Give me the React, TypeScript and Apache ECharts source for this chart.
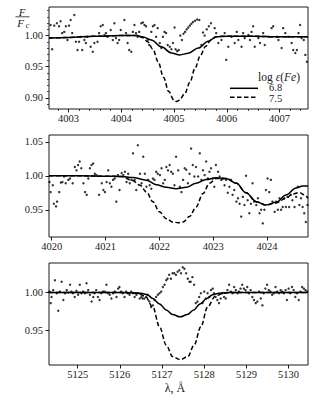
import React, { useEffect, useRef } from "react";
import * as echarts from "echarts";

// ---------- axis ticks / ranges ----------
const p1XTicks = [4003, 4004, 4005, 4006, 4007];
const p2XTicks = [4020, 4021, 4022, 4023, 4024];
const p3XTicks = [5125, 5126, 5127, 5128, 5129, 5130];
const p1YTicks = [0.9, 0.95, 1.0];
const p2YTicks = [0.95, 1.0, 1.05];
const p3YTicks = [0.95, 1.0];
const p1XRange = [4002.63, 4007.54];
const p2XRange = [4019.95, 4024.76];
const p3XRange = [5124.32, 5130.46];
const p1YRange = [0.882, 1.046];
const p2YRange = [0.91, 1.06];
const p3YRange = [0.905, 1.0385];

// ---------- panel 1 (Fe I 4005) ----------
const p1Points = [
  [4002.66, 1.017], [4002.69, 0.978], [4002.73, 1.016], [4002.78, 1.02], [4002.82, 1.015], [4002.85, 1.023],
  [4002.88, 1.004], [4002.92, 1.006], [4002.95, 1.015], [4002.98, 0.993], [4003.01, 1.016], [4003.04, 1.025],
  [4003.07, 1.004], [4003.11, 1.033], [4003.14, 0.99], [4003.17, 0.977], [4003.2, 0.99], [4003.23, 0.998],
  [4003.26, 0.977], [4003.3, 0.993], [4003.33, 0.988], [4003.36, 0.998], [4003.42, 0.982], [4003.46, 0.974],
  [4003.49, 0.988], [4003.55, 0.99], [4003.58, 1.004], [4003.61, 1.015], [4003.65, 1.017], [4003.68, 1.001],
  [4003.71, 1.004], [4003.74, 0.998], [4003.8, 1.009], [4003.84, 0.993], [4003.87, 1.02], [4003.9, 0.996],
  [4003.93, 0.988], [4003.96, 0.993], [4003.99, 1.009], [4004.06, 1.025], [4004.09, 1.004], [4004.12, 0.988],
  [4004.15, 0.977], [4004.19, 0.974], [4004.22, 1.006], [4004.25, 1.017], [4004.28, 1.004], [4004.31, 0.998],
  [4004.34, 1.006], [4004.38, 1.02], [4004.41, 1.021], [4004.44, 1.017], [4004.47, 1.015], [4004.5, 0.993],
  [4004.53, 0.985], [4004.57, 1.006], [4004.6, 1.015], [4004.63, 1.017], [4004.66, 0.998], [4004.69, 1.012],
  [4004.73, 0.988], [4004.76, 0.98], [4004.79, 0.998], [4004.82, 1.006], [4004.85, 1.004], [4004.88, 0.985],
  [4004.92, 0.982], [4004.95, 0.978], [4004.98, 0.988], [4005.01, 1.013], [4005.03, 0.978], [4005.06, 0.975],
  [4005.09, 0.977], [4005.12, 1.0], [4005.15, 0.993], [4005.18, 1.003], [4005.21, 1.006], [4005.24, 1.01],
  [4005.27, 1.013], [4005.3, 1.016], [4005.33, 1.019], [4005.36, 1.022], [4005.4, 1.024], [4005.44, 1.026],
  [4005.48, 1.025], [4005.52, 0.985], [4005.55, 1.005], [4005.58, 1.0], [4005.62, 1.01], [4005.66, 1.015],
  [4005.7, 1.02], [4005.77, 1.012], [4005.8, 1.004], [4005.84, 0.988], [4005.9, 0.993], [4005.96, 1.004],
  [4005.99, 0.961], [4006.03, 0.982], [4006.09, 0.998], [4006.15, 0.988], [4006.19, 1.006], [4006.22, 0.993],
  [4006.28, 0.982], [4006.31, 1.004], [4006.34, 0.996], [4006.41, 1.001], [4006.44, 0.993], [4006.47, 1.006],
  [4006.5, 1.015], [4006.53, 0.982], [4006.6, 0.996], [4006.63, 0.988], [4006.69, 1.004], [4006.72, 0.985],
  [4006.79, 0.998], [4006.85, 1.012], [4006.88, 1.015], [4006.95, 0.998], [4006.98, 0.993], [4007.04, 0.98],
  [4007.07, 1.012], [4007.11, 1.004], [4007.17, 0.998], [4007.23, 0.988], [4007.26, 0.977], [4007.3, 0.972],
  [4007.33, 0.977], [4007.36, 1.004], [4007.39, 1.017], [4007.42, 0.996], [4007.46, 0.993], [4007.49, 0.969],
  [4007.52, 0.958],
];
const p1Solid = [
  [4002.63, 0.996], [4003.0, 0.997], [4003.5, 0.999], [4004.0, 1.0], [4004.3, 1.0], [4004.4, 0.998],
  [4004.57, 0.993], [4004.76, 0.982], [4004.95, 0.972], [4005.11, 0.969], [4005.27, 0.9715], [4005.46, 0.98],
  [4005.65, 0.991], [4005.8, 0.998], [4006.0, 0.999], [4006.5, 0.999], [4007.0, 0.998], [4007.54, 0.998],
];
const p1Dashed = [
  [4002.63, 0.996], [4003.0, 0.997], [4003.5, 0.999], [4004.0, 1.0], [4004.3, 1.0], [4004.4, 0.997],
  [4004.5, 0.99], [4004.6, 0.978], [4004.7, 0.958], [4004.8, 0.933], [4004.9, 0.91], [4005.0, 0.896],
  [4005.05, 0.894], [4005.1, 0.896], [4005.2, 0.906], [4005.3, 0.925], [4005.4, 0.948], [4005.5, 0.968],
  [4005.6, 0.983], [4005.7, 0.993], [4005.8, 0.998], [4005.9, 0.999], [4006.5, 0.999], [4007.0, 0.998],
  [4007.54, 0.998],
];

// ---------- panel 2 (4020-4024) ----------
const p2Points = [
  [4019.96, 0.991], [4019.98, 0.976], [4020.02, 0.986], [4020.04, 0.959], [4020.08, 0.955], [4020.1, 0.962],
  [4020.14, 0.976], [4020.17, 0.99], [4020.2, 0.991], [4020.23, 0.999], [4020.26, 0.989], [4020.31, 0.994],
  [4020.34, 0.996], [4020.39, 0.989], [4020.43, 1.013], [4020.46, 1.008], [4020.49, 1.016], [4020.52, 1.021],
  [4020.55, 1.011], [4020.59, 0.989], [4020.62, 0.976], [4020.65, 0.972], [4020.68, 0.996], [4020.71, 1.011],
  [4020.74, 1.016], [4020.77, 1.018], [4020.8, 1.003], [4020.83, 1.001], [4020.88, 0.972], [4020.93, 0.989],
  [4020.96, 0.979], [4020.99, 0.976], [4021.02, 0.991], [4021.05, 1.008], [4021.08, 0.989], [4021.11, 0.984],
  [4021.14, 0.994], [4021.17, 0.996], [4021.2, 0.962], [4021.23, 1.001], [4021.26, 0.979], [4021.3, 1.004],
  [4021.33, 1.001], [4021.36, 1.006], [4021.39, 0.991], [4021.42, 1.003], [4021.45, 0.989], [4021.48, 0.994],
  [4021.51, 1.033], [4021.54, 0.994], [4021.57, 0.979], [4021.6, 1.045], [4021.64, 1.003], [4021.67, 0.989],
  [4021.7, 1.028], [4021.73, 1.003], [4021.76, 0.984], [4021.79, 0.994], [4021.82, 0.986], [4021.85, 0.981],
  [4021.88, 0.996], [4021.91, 0.994], [4021.94, 1.006], [4021.97, 1.003], [4022.01, 1.001], [4022.04, 1.011],
  [4022.07, 0.989], [4022.1, 0.994], [4022.13, 1.013], [4022.16, 1.008], [4022.19, 1.016], [4022.22, 1.006],
  [4022.25, 1.003], [4022.28, 0.986], [4022.31, 1.028], [4022.35, 1.008], [4022.38, 0.984], [4022.41, 0.976],
  [4022.44, 0.994], [4022.47, 1.011], [4022.5, 1.009], [4022.53, 0.989], [4022.56, 1.003], [4022.59, 1.04],
  [4022.62, 1.016], [4022.65, 0.999], [4022.68, 1.013], [4022.72, 0.999], [4022.75, 1.033], [4022.78, 0.994],
  [4022.81, 1.008], [4022.84, 1.001], [4022.87, 1.021], [4022.9, 0.996], [4022.93, 1.006], [4022.96, 1.011],
  [4022.99, 0.996], [4023.02, 0.984], [4023.05, 1.016], [4023.09, 1.006], [4023.12, 0.999], [4023.15, 0.994],
  [4023.18, 0.996], [4023.21, 0.986], [4023.24, 0.994], [4023.27, 0.975], [4023.3, 0.984], [4023.33, 0.994],
  [4023.36, 0.972], [4023.39, 0.979], [4023.43, 0.962], [4023.46, 0.967], [4023.49, 0.959], [4023.52, 0.94],
  [4023.55, 0.969], [4023.58, 0.957], [4023.61, 1.0], [4023.64, 0.964], [4023.67, 0.945], [4023.7, 0.959],
  [4023.73, 0.989], [4023.76, 0.962], [4023.8, 0.957], [4023.83, 0.967], [4023.86, 0.945], [4023.89, 0.95],
  [4023.92, 0.93], [4023.95, 0.95], [4023.98, 0.979], [4024.01, 0.996], [4024.04, 0.976], [4024.07, 0.994],
  [4024.1, 0.962], [4024.14, 0.947], [4024.17, 0.962], [4024.2, 0.95], [4024.23, 0.967], [4024.26, 0.95],
  [4024.29, 0.954], [4024.32, 0.967], [4024.35, 0.954], [4024.38, 0.969], [4024.41, 0.954], [4024.44, 0.972],
  [4024.47, 0.964], [4024.51, 0.954], [4024.54, 0.969], [4024.57, 0.984], [4024.6, 0.957], [4024.63, 0.967],
  [4024.66, 0.954], [4024.69, 0.945], [4024.72, 0.932], [4024.75, 0.957],
];
const p2Solid = [
  [4019.95, 1.0], [4020.5, 1.0], [4021.0, 0.9995], [4021.3, 0.999], [4021.5, 0.9975], [4021.76, 0.9936],
  [4021.94, 0.987], [4022.13, 0.983], [4022.31, 0.981], [4022.5, 0.983], [4022.68, 0.989], [4022.87, 0.9946],
  [4023.05, 0.997], [4023.24, 0.996], [4023.43, 0.989], [4023.61, 0.975], [4023.8, 0.962], [4023.98, 0.957],
  [4024.17, 0.961], [4024.35, 0.9716], [4024.54, 0.982], [4024.66, 0.985], [4024.76, 0.985],
];
const p2Dashed = [
  [4019.95, 1.0], [4020.5, 1.0], [4021.0, 0.9995], [4021.3, 0.999], [4021.5, 0.993], [4021.64, 0.986],
  [4021.76, 0.976], [4021.88, 0.962], [4022.0, 0.947], [4022.13, 0.937], [4022.25, 0.932], [4022.35, 0.931],
  [4022.44, 0.932], [4022.56, 0.94], [4022.68, 0.954], [4022.81, 0.974], [4022.93, 0.989], [4023.05, 0.996],
  [4023.24, 0.996], [4023.43, 0.989], [4023.61, 0.975], [4023.8, 0.962], [4023.98, 0.957], [4024.17, 0.96],
  [4024.35, 0.967], [4024.47, 0.973], [4024.6, 0.9755], [4024.69, 0.972], [4024.76, 0.967],
];

// ---------- panel 3 (5127) ----------
const p3Points = [
  [5124.33, 1.001], [5124.36, 0.986], [5124.38, 0.994], [5124.42, 1.003], [5124.46, 1.016], [5124.5, 0.999],
  [5124.54, 0.976], [5124.58, 1.001], [5124.62, 1.014], [5124.66, 0.99], [5124.7, 0.999], [5124.74, 1.003],
  [5124.78, 1.0], [5124.82, 1.01], [5124.85, 1.001], [5124.89, 0.999], [5124.93, 0.994], [5124.97, 1.002],
  [5125.01, 0.997], [5125.05, 1.01], [5125.09, 0.999], [5125.13, 1.001], [5125.17, 0.999], [5125.21, 1.012],
  [5125.25, 1.003], [5125.29, 0.997], [5125.33, 0.988], [5125.37, 0.994], [5125.4, 0.999], [5125.44, 1.003],
  [5125.48, 0.994], [5125.52, 0.99], [5125.56, 0.999], [5125.6, 1.001], [5125.64, 1.001], [5125.68, 1.01],
  [5125.72, 0.999], [5125.76, 0.997], [5125.8, 0.992], [5125.84, 0.999], [5125.88, 1.001], [5125.92, 0.994],
  [5125.96, 1.005], [5125.99, 1.007], [5126.03, 1.001], [5126.07, 0.999], [5126.11, 0.994], [5126.15, 1.001],
  [5126.19, 0.999], [5126.23, 0.997], [5126.27, 1.001], [5126.31, 0.999], [5126.35, 0.994], [5126.39, 0.997],
  [5126.43, 0.999], [5126.47, 0.992], [5126.51, 0.994], [5126.54, 0.992], [5126.58, 0.992], [5126.62, 0.994],
  [5126.66, 0.997], [5126.7, 0.988], [5126.74, 0.981], [5126.78, 0.983], [5126.82, 0.99], [5126.86, 0.994],
  [5126.9, 0.997], [5126.94, 0.999], [5126.98, 1.001], [5127.02, 1.007], [5127.06, 1.01], [5127.1, 1.016],
  [5127.13, 1.018], [5127.17, 1.023], [5127.21, 1.018], [5127.25, 1.025], [5127.29, 1.025], [5127.33, 1.023],
  [5127.37, 1.027], [5127.41, 1.029], [5127.45, 1.025], [5127.49, 1.033], [5127.53, 1.031], [5127.57, 1.025],
  [5127.61, 1.018], [5127.65, 1.014], [5127.68, 1.014], [5127.72, 1.02], [5127.76, 1.01], [5127.8, 0.986],
  [5127.84, 0.988], [5127.88, 0.994], [5127.92, 0.999], [5127.96, 0.986], [5128.0, 1.001], [5128.04, 0.992],
  [5128.08, 0.999], [5128.12, 0.994], [5128.16, 1.003], [5128.2, 1.005], [5128.23, 0.999], [5128.27, 0.994],
  [5128.31, 0.99], [5128.35, 0.986], [5128.39, 0.992], [5128.43, 0.999], [5128.47, 0.994], [5128.51, 0.992],
  [5128.55, 1.003], [5128.59, 1.01], [5128.63, 1.001], [5128.67, 0.999], [5128.71, 1.007], [5128.75, 1.003],
  [5128.79, 0.999], [5128.82, 1.001], [5128.86, 1.005], [5128.9, 1.01], [5128.94, 1.005], [5128.98, 1.003],
  [5129.02, 1.007], [5129.06, 0.999], [5129.1, 1.003], [5129.14, 0.994], [5129.18, 0.99], [5129.22, 0.986],
  [5129.26, 0.988], [5129.3, 1.001], [5129.34, 0.992], [5129.38, 0.983], [5129.41, 0.999], [5129.45, 1.005],
  [5129.49, 1.01], [5129.53, 1.003], [5129.57, 1.001], [5129.61, 0.997], [5129.65, 0.999], [5129.69, 1.007],
  [5129.73, 1.001], [5129.77, 0.999], [5129.81, 1.003], [5129.85, 1.001], [5129.89, 0.999], [5129.93, 1.003],
  [5129.96, 0.99], [5130.0, 1.005], [5130.04, 0.999], [5130.08, 1.007], [5130.12, 1.003], [5130.16, 0.994],
  [5130.2, 0.999], [5130.24, 0.99], [5130.28, 1.001], [5130.32, 1.007], [5130.36, 1.005], [5130.4, 1.003],
  [5130.44, 1.001],
];
const p3Solid = [
  [5124.32, 1.0], [5126.0, 1.0], [5126.5, 0.999], [5126.65, 0.997], [5126.78, 0.992], [5126.94, 0.985],
  [5127.1, 0.977], [5127.25, 0.971], [5127.43, 0.968], [5127.6, 0.971], [5127.75, 0.977], [5127.9, 0.985],
  [5128.06, 0.992], [5128.2, 0.997], [5128.35, 0.999], [5128.6, 1.0], [5130.46, 1.0],
];
const p3Dashed = [
  [5124.32, 1.0], [5126.0, 1.0], [5126.4, 0.999], [5126.6, 0.995], [5126.78, 0.981], [5126.94, 0.955],
  [5127.1, 0.931], [5127.25, 0.916], [5127.43, 0.912], [5127.61, 0.916], [5127.76, 0.931], [5127.92, 0.955],
  [5128.08, 0.981], [5128.26, 0.995], [5128.46, 0.999], [5128.7, 1.0], [5130.46, 1.0],
];

const legendLabels = ["6.8", "7.5"];
const xTitle = "λ, Å";

const FONT = "Liberation Serif";
const INK = "#1a1a1a";

function steps(from: number, to: number, step: number, skip: number[]) {
  const out: number[] = [];
  for (let v = from; v <= to + 1e-9; v += step) {
    const r = Math.round(v * 1000) / 1000;
    if (!skip.some((s) => Math.abs(s - r) < 1e-6)) out.push(r);
  }
  return out;
}

function txt(x: number, y: number, text: string, size: number, opts: any = {}) {
  return {
    type: "text",
    x,
    y,
    style: {
      text,
      fontFamily: FONT,
      fontSize: size,
      fontStyle: opts.italic ? "italic" : "normal",
      fill: INK,
      textAlign: opts.align || "center",
      textVerticalAlign: "middle",
      lineHeight: opts.lineHeight || size,
    },
  };
}

export default function App() {
  const ref = useRef<HTMLDivElement>(null);
  useEffect(() => {
    if (!ref.current) return;
    const chart = echarts.init(ref.current, undefined, { renderer: "svg" });

    const grids = [
      { left: 49, top: 7, width: 259, height: 102 },
      { left: 49, top: 135, width: 259, height: 102 },
      { left: 49, top: 263, width: 259, height: 102 },
    ].map((g) => ({ ...g, show: true, borderColor: INK, borderWidth: 1, backgroundColor: "transparent" }));

    const xAx = (gi: number, range: number[], ticks: number[]) => ({
      type: "value",
      gridIndex: gi,
      min: range[0],
      max: range[1],
      position: "bottom",
      axisLine: { show: false, onZero: false },
      axisTick: { show: true, customValues: ticks, length: 3.5, lineStyle: { color: INK, width: 1 } },
      axisLabel: {
        customValues: ticks,
        formatter: (v: number) => String(Math.round(v)),
        fontFamily: FONT,
        fontSize: 10.5,
        color: INK,
        margin: 4,
      },
      splitLine: { show: false },
    });
    const yAx = (gi: number, range: number[], ticks: number[]) => ({
      type: "value",
      gridIndex: gi,
      min: range[0],
      max: range[1],
      position: "left",
      axisLine: { show: false, onZero: false },
      axisTick: { show: true, customValues: ticks, length: 3.5, lineStyle: { color: INK, width: 1 } },
      axisLabel: {
        customValues: ticks,
        formatter: (v: number) => v.toFixed(2),
        fontFamily: FONT,
        fontSize: 10.5,
        color: INK,
        margin: 6,
      },
      splitLine: { show: false },
    });
    const minorX = (gi: number, range: number[], vals: number[]) => ({
      type: "value",
      gridIndex: gi,
      min: range[0],
      max: range[1],
      position: "bottom",
      axisLine: { show: false, onZero: false },
      axisTick: { show: true, customValues: vals, length: 2, lineStyle: { color: INK, width: 0.8 } },
      axisLabel: { show: false },
      splitLine: { show: false },
    });
    const minorY = (gi: number, range: number[], vals: number[]) => ({
      type: "value",
      gridIndex: gi,
      min: range[0],
      max: range[1],
      position: "left",
      axisLine: { show: false, onZero: false },
      axisTick: { show: true, customValues: vals, length: 2, lineStyle: { color: INK, width: 0.8 } },
      axisLabel: { show: false },
      splitLine: { show: false },
    });

    const p1MinorX = steps(4002.8, 4007.4, 0.2, p1XTicks);
    const p1MinorY = steps(0.89, 1.04, 0.01, p1YTicks);

    const panels = [
      { pts: p1Points, solid: p1Solid, dashed: p1Dashed },
      { pts: p2Points, solid: p2Solid, dashed: p2Dashed },
      { pts: p3Points, solid: p3Solid, dashed: p3Dashed },
    ];
    const series: any[] = [];
    panels.forEach((p, i) => {
      series.push({
        type: "scatter",
        xAxisIndex: i,
        yAxisIndex: i,
        data: p.pts,
        symbolSize: 2.4,
        itemStyle: { color: "#000" },
        silent: true,
        clip: true,
      });
      series.push({
        type: "line",
        xAxisIndex: i,
        yAxisIndex: i,
        data: p.solid,
        showSymbol: false,
        smooth: 0.35,
        smoothMonotone: "x",
        lineStyle: { color: "#000", width: 1.5 },
        silent: true,
        clip: true,
      });
      series.push({
        type: "line",
        xAxisIndex: i,
        yAxisIndex: i,
        data: p.dashed,
        showSymbol: false,
        smooth: 0.35,
        smoothMonotone: "x",
        lineStyle: { color: "#000", width: 1.5, type: [4.5, 2.5] },
        silent: true,
        clip: true,
      });
    });

    const option: any = {
      animation: false,
      grid: grids,
      xAxis: [
        xAx(0, p1XRange, p1XTicks),
        xAx(1, p2XRange, p2XTicks),
        xAx(2, p3XRange, p3XTicks),
        minorX(0, p1XRange, p1MinorX),
      ],
      yAxis: [
        yAx(0, p1YRange, p1YTicks),
        yAx(1, p2YRange, p2YTicks),
        yAx(2, p3YRange, p3YTicks),
        minorY(0, p1YRange, p1MinorY),
      ],
      series,
      graphic: [
        // F / Fc label
        txt(22, 11.5, "F", 11, { italic: true }),
        {
          type: "line",
          shape: { x1: 15.5, y1: 16.8, x2: 29.5, y2: 16.8 },
          style: { stroke: INK, lineWidth: 0.8 },
        },
        txt(20.5, 23, "F", 11, { italic: true }),
        txt(27.5, 25.5, "c", 8, { italic: true }),
        // legend
        {
          type: "text",
          x: 300,
          y: 77,
          style: {
            text: "{n|log }{i|ε}{n|(}{i|Fe}{n|)}",
            textAlign: "right",
            textVerticalAlign: "middle",
            rich: {
              n: { fontFamily: FONT, fontSize: 11.5, fill: INK, lineHeight: 9 },
              i: { fontFamily: FONT, fontSize: 11.5, fontStyle: "italic", fill: INK, lineHeight: 9 },
            },
          },
        },
        {
          type: "line",
          shape: { x1: 230, y1: 88.3, x2: 258, y2: 88.3 },
          style: { stroke: "#000", lineWidth: 1.5 },
        },
        txt(269, 87.5, legendLabels[0], 10.5, { align: "left", lineHeight: 8 }),
        {
          type: "line",
          shape: { x1: 230, y1: 97.3, x2: 258, y2: 97.3 },
          style: { stroke: "#000", lineWidth: 1.5, lineDash: [4.5, 2.5] },
        },
        txt(269, 98, legendLabels[1], 10.5, { align: "left", lineHeight: 8 }),
        // x title
        txt(175, 388, xTitle, 12),
      ],
    };
    chart.setOption(option);
    return () => chart.dispose();
  }, []);

  return (
    <div
      ref={ref}
      style={{ position: "fixed", left: 0, top: 0, width: 325, height: 410, background: "#fff" }}
    />
  );
}
